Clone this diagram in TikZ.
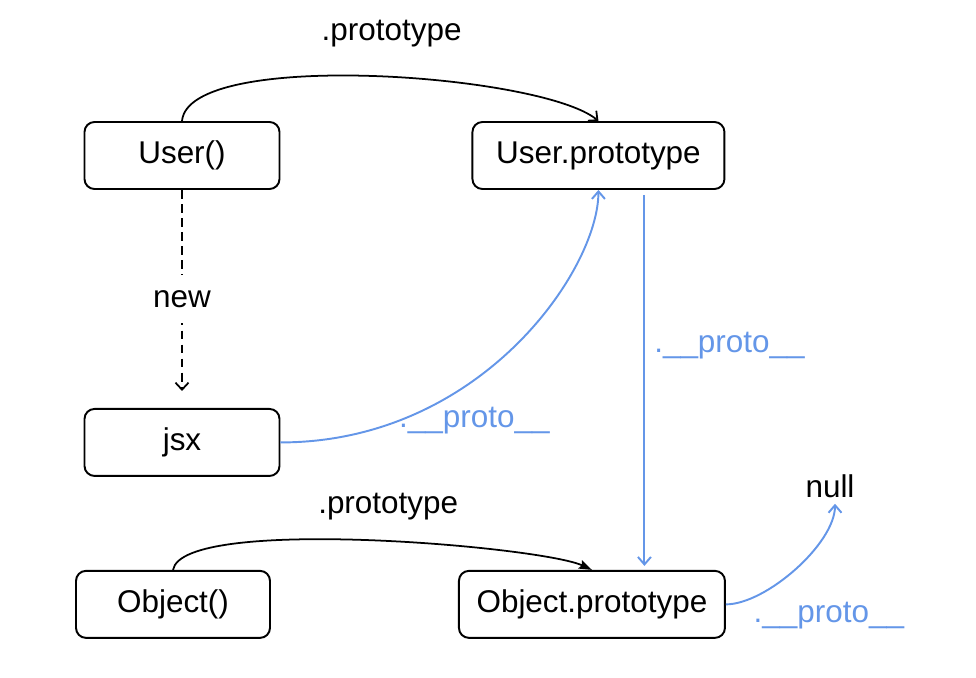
\documentclass[tikz,border=0pt]{standalone}
\usepackage{fontspec}
\setmainfont{Liberation Sans}
\usetikzlibrary{arrows.meta,positioning}
\definecolor{protoblue}{RGB}{100,150,232}

\begin{document}
\begin{tikzpicture}[
  font=\fontsize{17.9}{21}\selectfont,
  box/.style={draw, line width=1.1pt, rounded corners=0.2cm, minimum height=1.34cm, align=center},
  link/.style={draw, line width=1pt, -{Straight Barb[length=0.14cm,width=0.26cm]}},
  proto/.style={draw=protoblue, line width=1.1pt, -{Straight Barb[length=0.15cm,width=0.26cm]}},
  protolabel/.style={text=protoblue}
]
\useasboundingbox (0,0) rectangle (19.52,-13.54);

\node[box, minimum width=3.9cm] (user) at (3.64,-3.11) {User()};
\node[box, minimum width=5.04cm, right=3.82cm of user] (uproto) {User.prototype};
\node[box, minimum width=3.9cm, below=4.36cm of user] (jsx) {jsx};
\node[box, minimum width=3.88cm, below=1.86cm of jsx, xshift=-0.18cm] (obj) {Object()};
\node[box, minimum width=5.32cm, right=3.74cm of obj] (oproto) {Object.prototype};
\node (null) at (16.6,-9.72) {null};
\coordinate (ptop) at ([xshift=0.92cm]uproto.south);

\draw[link] (user.north) to[out=85, in=140, looseness=0.45] node[xshift=0.4cm, yshift=0.86cm] {.prototype} (uproto.north);
\draw[link, dash pattern=on 5pt off 3pt, shorten >=0.34cm] (user.south) -- node[fill=white, minimum height=0.95cm] {new} (jsx.north);
\draw[link, -{Stealth[length=0.26cm,width=0.18cm,inset=0.04cm]}] (obj.north) to[out=80, in=155, looseness=0.34] node[xshift=0.42cm, yshift=0.68cm] {.prototype} (oproto.north);

\draw[proto] (jsx.east) .. controls +(4cm,0) and +(0,-1.6cm) .. node[pos=0.3, xshift=0.74cm, yshift=-0.36cm, protolabel] {.\_\_proto\_\_} (uproto.south);
\draw[proto, shorten <=0.1cm, shorten >=0.08cm] (ptop) -- node[pos=0.41, right=0pt, xshift=0.06cm, protolabel] {.\_\_proto\_\_} (ptop |- oproto.north);
\draw[proto] (oproto.east) .. controls +(0.8cm,0) and +(0,-0.8cm) .. node[pos=0, anchor=west, xshift=0.42cm, yshift=-0.22cm, protolabel] {.\_\_proto\_\_} ([xshift=0.1cm]null.south);

\end{tikzpicture}
\end{document}
